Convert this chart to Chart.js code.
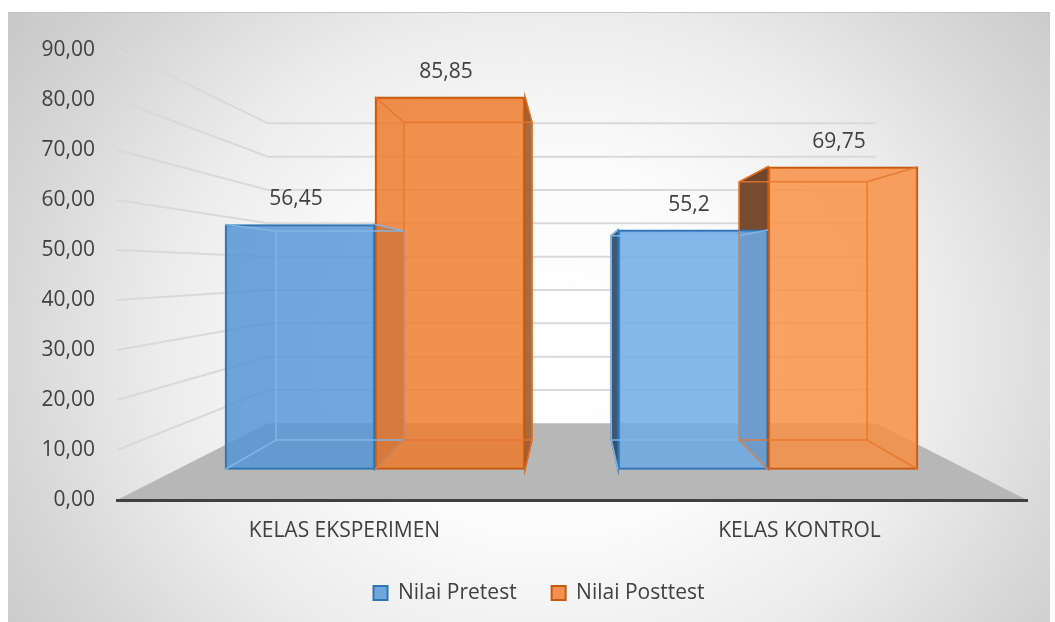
<!DOCTYPE html>
<html>
<head>
<meta charset="utf-8">
<script src="https://cdn.jsdelivr.net/npm/chart.js@4.4.1/dist/chart.umd.min.js"></script>
<style>
  html, body { margin: 0; padding: 0; background: #fff; }
  #wrap {
    position: absolute; left: 8px; top: 12px; width: 1042px; height: 610px;
    box-shadow: inset 0 1px 0 #c4c4c4;
    background: radial-gradient(ellipse 75% 110% at 52% 55%, #ffffff 0%, #fbfbfb 28%, #ececec 50%, #d6d6d6 70%, #c8c8c8 85%, #c0c0c0 100%);
  }
</style>
</head>
<body>
<div id="wrap"><canvas id="chart"></canvas></div>
<script>
// data
const categories  = ['KELAS EKSPERIMEN', 'KELAS KONTROL'];
const seriesNames = ['Nilai Pretest', 'Nilai Posttest'];
const pretest     = [56.45, 55.2];
const posttest    = [85.85, 69.75];
const yTickMin = 0, yTickMax = 90, yTickStep = 10;

const FONT = '"Open Sans", sans-serif';
const TEXT = '#404040';

// look of the fake 3D boxes
const STYLE = [
  { fill: ['rgba(88,152,214,0.85)', 'rgba(110,172,230,0.85)'], legend: '#6fa6dc', border: '#2e75b6',
    inner: 'rgba(130,182,232,0.95)', dark: '#3a5878', mid: '#4a6f94' },
  { fill: ['rgba(240,126,48,0.85)', 'rgba(249,146,70,0.85)'], legend: '#f2914f', border: '#c55a11',
    inner: 'rgba(232,116,42,0.85)', dark: '#764c31', mid: '#a86a40' },
];
const SIDE  = 151;    // inset of back wall from chart edges
const DEPTH = 0.147;  // how far a bar's back face moves toward the vanishing point
const VP_Y  = 0.487;  // vanishing point height as fraction of chart area

const fmtTick  = v => v.toFixed(2).replace('.', ',');
const fmtLabel = v => String(v).replace('.', ',');

function vpOf(a) { return [(a.left + a.right) / 2, a.top + (a.bottom - a.top) * VP_Y]; }
const toVp = (p, vp) => [p[0] + (vp[0] - p[0]) * DEPTH, p[1] + (vp[1] - p[1]) * DEPTH];

function boxOf(bar, vp) {
  const x0 = bar.x - bar.width / 2, x1 = bar.x + bar.width / 2;
  const f = { tl: [x0, bar.y], tr: [x1, bar.y], br: [x1, bar.base], bl: [x0, bar.base] };
  const b = { tl: toVp(f.tl, vp), tr: toVp(f.tr, vp), br: toVp(f.br, vp), bl: toVp(f.bl, vp) };
  return { f, b };
}

function poly(ctx, pts) {
  ctx.beginPath();
  ctx.moveTo(pts[0][0], pts[0][1]);
  pts.slice(1).forEach(p => ctx.lineTo(p[0], p[1]));
  ctx.closePath();
}

const scene3d = {
  id: 'scene3d',
  beforeDraw(chart) {
    const { ctx, chartArea: a, scales } = chart;
    const yV = scales.y, yB = scales.yBack;
    const bl = a.left + SIDE, br = a.right - SIDE;
    const vp = vpOf(a);
    ctx.save();
    // floor
    ctx.fillStyle = '#b7b7b7';
    poly(ctx, [[a.left, yV.getPixelForValue(0)], [a.right, yV.getPixelForValue(0)],
               [br, yB.getPixelForValue(0)], [bl, yB.getPixelForValue(0)]]);
    ctx.fill();
    // side + back wall grid lines
    ctx.strokeStyle = '#d9d9d9';
    ctx.lineWidth = 2;
    yV.ticks.forEach(t => {
      if (t.value === 0) return;
      ctx.beginPath();
      ctx.moveTo(a.left, yV.getPixelForValue(t.value));
      ctx.lineTo(bl, yB.getPixelForValue(t.value));
      ctx.lineTo(br, yB.getPixelForValue(t.value));
      ctx.stroke();
    });
    // box faces behind the front faces
    chart.data.datasets.forEach((ds, i) => {
      const st = STYLE[i];
      chart.getDatasetMeta(i).data.forEach(bar => {
        const { f, b } = boxOf(bar, vp);
        const faint = 'rgba(0,0,0,0.07)';
        const faces = [
          { pts: [f.tl, b.tl, b.bl, f.bl], out: f.tl[0] > vp[0], col: st.dark },
          { pts: [f.tr, b.tr, b.br, f.br], out: f.tr[0] < vp[0], col: st.mid },
          { pts: [f.tl, f.tr, b.tr, b.tl], out: f.tl[1] > vp[1], col: st.mid },
          { pts: [f.bl, f.br, b.br, b.bl], out: f.bl[1] < vp[1], col: st.mid },
        ];
        faces.forEach(fc => {
          poly(ctx, fc.pts);
          if (fc.out) {
            ctx.fillStyle = fc.col; ctx.fill();
            ctx.strokeStyle = st.border; ctx.lineWidth = 1.5; ctx.stroke();
          } else {
            ctx.fillStyle = faint; ctx.fill();
          }
        });
      });
    });
    ctx.restore();
  },
  afterDatasetsDraw(chart) {
    const { ctx, chartArea: a } = chart;
    const vp = vpOf(a);
    ctx.save();
    chart.data.datasets.forEach((ds, i) => {
      const st = STYLE[i];
      chart.getDatasetMeta(i).data.forEach((bar, j) => {
        const { f, b } = boxOf(bar, vp);
        ctx.strokeStyle = st.inner;
        ctx.lineWidth = 1.5;
        poly(ctx, [b.tl, b.tr, b.br, b.bl]); ctx.stroke();
        ['tl', 'tr', 'br', 'bl'].forEach(k => {
          ctx.beginPath(); ctx.moveTo(f[k][0], f[k][1]); ctx.lineTo(b[k][0], b[k][1]); ctx.stroke();
        });
        // value label
        ctx.fillStyle = TEXT;
        ctx.font = '21px ' + FONT;
        ctx.textAlign = 'center';
        ctx.textBaseline = 'middle';
        ctx.fillText(fmtLabel(ds.data[j].y), bar.x - 4, bar.y - 25);
      });
    });
    ctx.restore();
  }
};

const toPoints = arr => arr.map((v, j) => ({ x: j, y: v }));

new Chart(document.getElementById('chart'), {
  type: 'bar',
  data: {
    labels: categories,
    datasets: [
      { label: seriesNames[0], data: toPoints(pretest) },
      { label: seriesNames[1], data: toPoints(posttest) },
    ].map((ds, i) => ({
      ...ds,
      xAxisID: 'xBar',
      yAxisID: 'yBar',
      backgroundColor: STYLE[i].fill,
      borderColor: STYLE[i].border,
      borderWidth: 2,
      borderSkipped: false,
      barThickness: 150,
    }))
  },
  options: {
    responsive: true,
    maintainAspectRatio: false,
    animation: false,
    layout: { padding: { top: 38, right: 0, bottom: 8.5, left: 20 } },
    plugins: {
      tooltip: { enabled: false },
      legend: {
        position: 'bottom',
        labels: {
          font: { family: FONT, size: 21 },
          color: TEXT,
          boxWidth: 14,
          boxHeight: 14,
          padding: 35,
          generateLabels: chart => chart.data.datasets.map((ds, i) => ({
            text: ds.label, fillStyle: STYLE[i].legend, strokeStyle: STYLE[i].border,
            lineWidth: 2, hidden: false, datasetIndex: i, fontColor: TEXT
          }))
        }
      }
    },
    scales: {
      x: {
        type: 'category',
        position: 'bottom',
        grid: { display: false, drawTicks: false },
        border: { display: true, color: '#404040', width: 3 },
        ticks: { font: { family: FONT, size: 21 }, color: TEXT, padding: 18 },
        afterFit: s => { s.height = 47.5; }
      },
      xBar: { type: 'linear', display: false, offset: false, min: -0.6565, max: 1.659 },
      y: {
        type: 'linear',
        position: 'left',
        min: yTickMin,
        max: yTickMax,
        grid: { display: false, drawTicks: false },
        border: { display: false },
        ticks: { stepSize: yTickStep, callback: v => fmtTick(v), font: { family: FONT, size: 21 }, color: TEXT, padding: 22 },
        afterFit: s => { s.width = 89; }
      },
      yBar:  { type: 'linear', display: false, min: -7.03, max: 96.66 },
      yBack: {
        type: 'linear', position: 'right', min: -23.0, max: 112.0,
        grid: { display: false, drawTicks: false }, border: { display: false }, ticks: { display: false },
        afterFit: s => { s.width = 23; }
      }
    }
  },
  plugins: [scene3d]
});
</script>
</body>
</html>
